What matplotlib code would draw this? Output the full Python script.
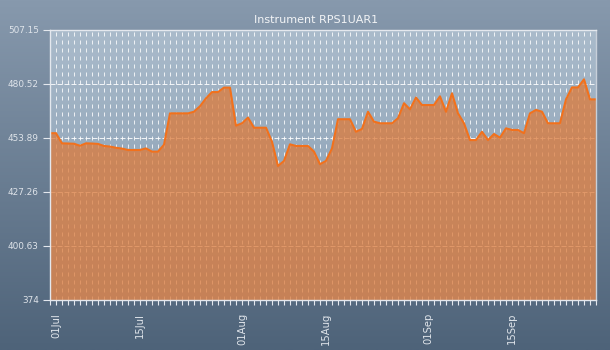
import matplotlib
matplotlib.use("Agg")
import matplotlib.pyplot as plt
import matplotlib.dates as mdates
import numpy as np
import pandas as pd
from matplotlib.colors import LinearSegmentedColormap

# daily closing values
start_date = "2013-06-30"
values = [
    456.2, 456.2, 451.2, 451.1, 451.0, 450.0, 451.2, 451.1, 450.9, 449.9,
    449.6, 449.0, 448.6, 447.9, 447.9, 447.9, 448.7, 447.1, 447.1, 450.5,
    466.0, 466.0, 466.0, 466.0, 466.8, 469.5, 473.4, 476.5, 476.5, 478.7,
    478.7, 459.9, 461.1, 463.9, 458.9, 458.9, 458.9, 452.0, 440.0, 442.5,
    450.7, 449.9, 449.9, 449.9, 447.1, 440.9, 442.5, 448.7, 463.1, 463.1,
    463.1, 456.9, 458.3, 466.8, 461.9, 461.1, 461.1, 461.1, 463.6, 471.0,
    468.0, 473.8, 470.1, 470.1, 470.1, 474.4, 466.8, 475.9, 466.0, 461.1,
    452.8, 452.8, 456.9, 452.8, 455.8, 454.0, 458.6, 457.8, 457.8, 456.2,
    466.0, 467.7, 466.8, 461.1, 461.1, 461.1, 472.9, 478.8, 478.8, 482.8,
    472.9, 472.9,
]
y_ticks = [374, 400.63, 427.26, 453.89, 480.52, 507.15]
y_tick_labels = ["374", "400.63", "427.26", "453.89", "480.52", "507.15"]
x_tick_dates = ["2013-07-01", "2013-07-15", "2013-08-01", "2013-08-15",
                "2013-09-01", "2013-09-15"]
x_tick_labels = ["01Jul", "15Jul", "01Aug", "15Aug", "01Sep", "15Sep"]
title = "Instrument RPS1UAR1"

dates = pd.date_range(start_date, periods=len(values), freq="D")
xs = mdates.date2num(dates.to_pydatetime())
ymin, ymax = y_ticks[0], y_ticks[-1]

fig = plt.figure(figsize=(6.1, 3.5), dpi=100)

# slate background gradient behind everything
bg = fig.add_axes([0, 0, 1, 1], zorder=-10)
bg_cmap = LinearSegmentedColormap.from_list("bg", ["#8799ad", "#4e6379"])
bg.imshow(np.linspace(0, 1, 256).reshape(-1, 1), aspect="auto", cmap=bg_cmap,
          extent=[0, 1, 0, 1])
bg.axis("off")

ax = fig.add_axes([50 / 610, 50.3 / 350, 546 / 610, 269.7 / 350])
plot_cmap = LinearSegmentedColormap.from_list("plot", ["#aabbcb", "#8197ad"])
ax.imshow(np.linspace(0, 1, 256).reshape(-1, 1), aspect="auto", cmap=plot_cmap,
          extent=[xs[0], xs[-1], ymin, ymax], zorder=0)

# translucent area so the grid still shows through
ax.fill_between(xs, values, ymin, color="#dc7b3c", alpha=0.76, lw=0, zorder=1)
ax.plot(xs, values, color="#f2711c", lw=1.5, zorder=2)

ax.set_xlim(xs[0], xs[-1])
ax.set_ylim(ymin, ymax)

ax.set_yticks(y_ticks)
ax.set_yticklabels(y_tick_labels)
ax.set_xticks(mdates.date2num(pd.to_datetime(x_tick_dates).to_pydatetime()))
ax.set_xticklabels(x_tick_labels, rotation=90)
ax.xaxis.set_minor_locator(mdates.DayLocator())

ax.set_axisbelow(True)
ax.grid(which="both", axis="x", color="white", lw=0.72, alpha=0.8,
        linestyle=(0, (4, 4)))
ax.grid(which="major", axis="y", color="white", lw=0.72, alpha=0.85,
        linestyle=(0, (5, 2)))

axis_col = "#e4e8ee"
for side in ["left", "bottom", "top", "right"]:
    ax.spines[side].set_color(axis_col)
    ax.spines[side].set_linewidth(1.0)
ax.spines["right"].set_color("#c8d0da")

ax.tick_params(axis="y", colors=axis_col, length=5, width=0.8, labelsize=6.4,
               pad=3, labelcolor="#dfe4ea")
ax.tick_params(axis="x", which="both", colors=axis_col, length=3.5, width=0.8,
               labelsize=7.2, pad=6, labelcolor="#dfe4ea")

fig.text(316 / 610, 1 - 20 / 350, title, ha="center", va="center",
         fontsize=8, color="#f2f4f6")

fig.savefig("out.png", dpi=100)
